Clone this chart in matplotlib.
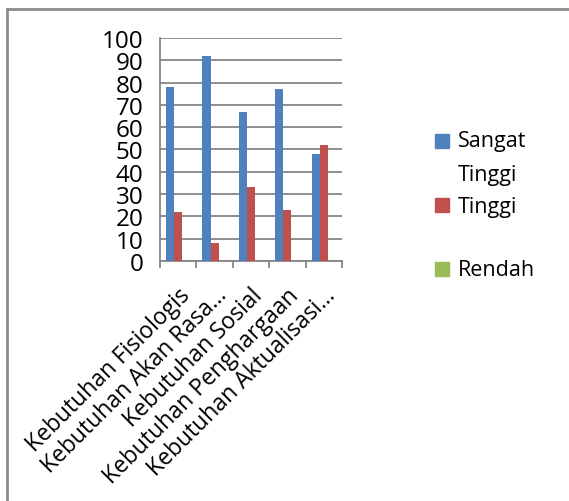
import matplotlib.pyplot as plt
import matplotlib.patches as mpatches
import numpy as np

categories = ['Kebutuhan Fisiologis', 'Kebutuhan Akan Rasa\u2026', 'Kebutuhan Sosial',
              'Kebutuhan Penghargaan', 'Kebutuhan Aktualisasi\u2026']
sangat_tinggi = [78, 92, 67, 77, 48]
tinggi = [22, 8, 33, 23, 52]
rendah = [0, 0, 0, 0, 0]
series_names = ['Sangat Tinggi', 'Tinggi', 'Rendah']
colors = ['#4F81BD', '#C0504D', '#9BBB59']

plt.rcParams['font.family'] = ['Open Sans', 'DejaVu Sans']

fig = plt.figure(figsize=(5.69, 5.02), dpi=100)
ax = fig.add_axes([160 / 569, 1 - 262 / 502, 182 / 569, 223 / 502])

x = np.arange(len(categories))
w = 1 / 4.5
for i, vals in enumerate([sangat_tinggi, tinggi, rendah]):
    ax.bar(x + (i - 1) * w, vals, w, color=colors[i], zorder=3)

ax.set_xlim(-0.5, len(categories) - 0.5)
ax.set_ylim(0, 100)
ax.set_yticks(range(0, 101, 10))
ax.yaxis.grid(True, color='#868686', lw=1.3, zorder=0)
for s in ['top', 'right']:
    ax.spines[s].set_visible(False)
ax.spines['left'].set_color('#868686')
ax.spines['bottom'].set_color('#868686')
ax.spines['left'].set_linewidth(1.3)
ax.spines['bottom'].set_linewidth(1.3)
ax.tick_params(axis='y', length=0, labelsize=17.5, pad=12)
ax.set_xticks(np.arange(-0.5, len(categories), 1))
ax.set_xticklabels([])
ax.tick_params(axis='x', length=5, width=1.3, color='#868686', direction='out')
for xi, lab in zip(x, categories):
    ax.annotate(lab, (xi, 0), xycoords=('data', 'axes fraction'),
                xytext=(6, -22), textcoords='offset points',
                rotation=45, rotation_mode='anchor', ha='right', va='center',
                fontsize=16.5)

# legend
sq = 14
for c, yp in zip(colors, [142, 206, 270]):
    fig.patches.append(mpatches.Rectangle((435 / 569, 1 - (yp + sq / 2) / 502), sq / 569, sq / 502,
                                          color=c, transform=fig.transFigure, figure=fig))
legend_lines = [('Sangat', 142), ('Tinggi', 175), (series_names[1], 207), (series_names[2], 271)]
for txt, yp in legend_lines:
    fig.text(458 / 569, 1 - yp / 502, txt, fontsize=15.5, va='center', ha='left')

# chart border
fig.add_artist(plt.Line2D([7 / 569, 7 / 569], [0, 1 - 10 / 502], color='#8c8c8c', lw=2,
                          transform=fig.transFigure))
fig.add_artist(plt.Line2D([7 / 569, 1], [1 - 10 / 502, 1 - 10 / 502], color='#8c8c8c', lw=2,
                          transform=fig.transFigure))

fig.savefig('out.png', dpi=100)
